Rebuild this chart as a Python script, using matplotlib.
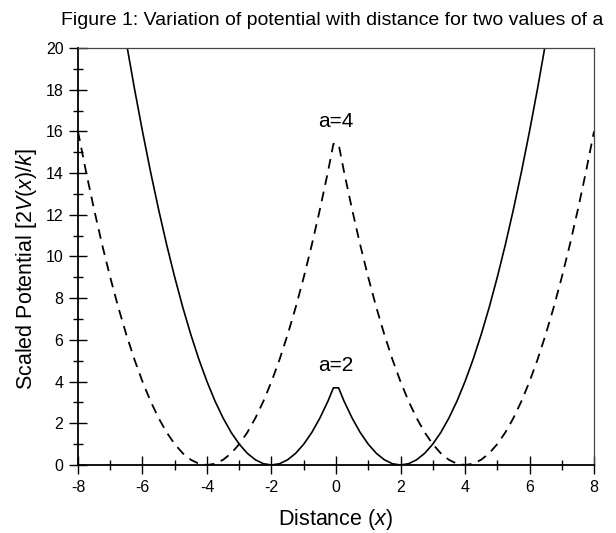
import matplotlib
matplotlib.use('Agg')
import matplotlib.pyplot as plt
from matplotlib.ticker import MultipleLocator

plt.rcParams['font.family'] = ['Liberation Sans', 'DejaVu Sans']
plt.rcParams['mathtext.fontset'] = 'custom'
plt.rcParams['mathtext.it'] = 'Liberation Sans:italic'
plt.rcParams['mathtext.rm'] = 'Liberation Sans'
plt.rcParams['axes.unicode_minus'] = False
plt.rcParams['lines.scale_dashes'] = False

# potential, a=2 (solid)
x_a2 = [-6.5, -6.25, -6.0, -5.75, -5.5, -5.25, -5.0, -4.75, -4.5, -4.25, -4.0, -3.75, -3.5, -3.25,
        -3.0, -2.75, -2.5, -2.25, -2.0, -1.75, -1.5, -1.25, -1.0, -0.75, -0.5, -0.25, -0.08,
        0.08, 0.25, 0.5, 0.75, 1.0, 1.25, 1.5, 1.75, 2.0, 2.25, 2.5, 2.75, 3.0,
        3.25, 3.5, 3.75, 4.0, 4.25, 4.5, 4.75, 5.0, 5.25, 5.5, 5.75, 6.0, 6.25, 6.5]
v_a2 = [20.25, 18.06, 16.0, 14.06, 12.25, 10.56, 9.0, 7.56, 6.25, 5.06, 4.0, 3.06, 2.25, 1.56,
        1.0, 0.56, 0.25, 0.06, 0.0, 0.06, 0.25, 0.56, 1.0, 1.56, 2.25, 3.06, 3.7,
        3.7, 3.06, 2.25, 1.56, 1.0, 0.56, 0.25, 0.06, 0.0, 0.06, 0.25, 0.56, 1.0,
        1.56, 2.25, 3.06, 4.0, 5.06, 6.25, 7.56, 9.0, 10.56, 12.25, 14.06, 16.0, 18.06, 20.25]

# a=4 (dashed)
x_a4 = [-8.0, -7.75, -7.5, -7.25, -7.0, -6.75, -6.5, -6.25, -6.0, -5.75, -5.5, -5.25, -5.0, -4.75,
        -4.5, -4.25, -4.0, -3.75, -3.5, -3.25, -3.0, -2.75, -2.5, -2.25, -2.0, -1.75, -1.5, -1.25,
        -1.0, -0.75, -0.5, -0.25, -0.08,
        0.08, 0.25, 0.5, 0.75, 1.0, 1.25, 1.5, 1.75, 2.0, 2.25, 2.5, 2.75, 3.0, 3.25, 3.5, 3.75,
        4.0, 4.25, 4.5, 4.75, 5.0, 5.25, 5.5, 5.75, 6.0, 6.25, 6.5, 6.75, 7.0, 7.25, 7.5, 7.75, 8.0]
v_a4 = [16.0, 14.06, 12.25, 10.56, 9.0, 7.56, 6.25, 5.06, 4.0, 3.06, 2.25, 1.56, 1.0, 0.56,
        0.25, 0.06, 0.0, 0.06, 0.25, 0.56, 1.0, 1.56, 2.25, 3.06, 4.0, 5.06, 6.25, 7.56,
        9.0, 10.56, 12.25, 14.06, 15.4,
        15.4, 14.06, 12.25, 10.56, 9.0, 7.56, 6.25, 5.06, 4.0, 3.06, 2.25, 1.56, 1.0, 0.56, 0.25, 0.06,
        0.0, 0.06, 0.25, 0.56, 1.0, 1.56, 2.25, 3.06, 4.0, 5.06, 6.25, 7.56, 9.0, 10.56, 12.25, 14.06, 16.0]

fig = plt.figure(figsize=(6.16, 5.33), dpi=100)
ax = fig.add_axes([0.1266, 0.1276, 0.8377, 0.7824])

ax.plot(x_a2, v_a2, color='black', linewidth=1.2)
ax.plot(x_a4, v_a4, color='black', linewidth=1.3, dashes=(7, 5))

ax.text(0, 16.2, 'a=4', ha='center', va='baseline', fontsize=15)
ax.text(0, 4.5, 'a=2', ha='center', va='baseline', fontsize=15)

ax.set_xlim(-8, 8)
ax.set_ylim(0, 20)
ax.xaxis.set_major_locator(MultipleLocator(2))
ax.xaxis.set_minor_locator(MultipleLocator(1))
ax.yaxis.set_major_locator(MultipleLocator(2))
ax.yaxis.set_minor_locator(MultipleLocator(1))
ax.tick_params(which='major', direction='inout', length=13, width=1, labelsize=11.5, pad=4)
ax.tick_params(which='minor', direction='inout', length=7, width=1)
ax.tick_params(top=False, right=False, which='both')

for side in ['left', 'bottom']:
    ax.spines[side].set_linewidth(1.3)
for side in ['top', 'right']:
    ax.spines[side].set_linewidth(0.9)
    ax.spines[side].set_color('#444444')

ax.set_xlabel('Distance ($x$)', fontsize=15.5, labelpad=9)
ax.set_ylabel('Scaled Potential [2$V$($x$)/$k$]', fontsize=15.5)
ax.yaxis.set_label_coords(-0.076, 0.47)

fig.text(0.539, 0.961, 'Figure 1: Variation of potential with distance for two values of a',
         ha='center', va='center', fontsize=14)

fig.savefig('out.png', dpi=100)
